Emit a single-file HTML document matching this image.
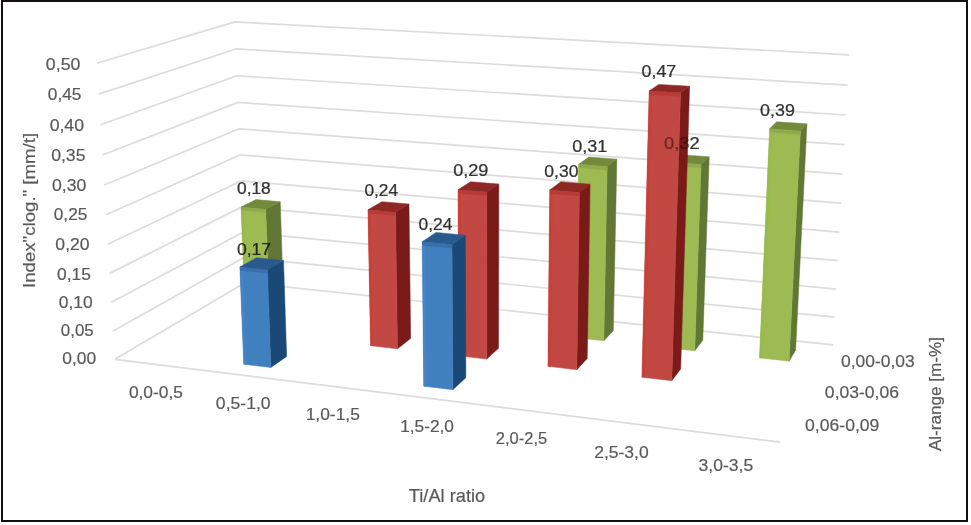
<!DOCTYPE html>
<html><head><meta charset="utf-8"><title>Chart</title>
<style>
html,body{margin:0;padding:0;background:#fff;}
body{width:971px;height:525px;overflow:hidden;position:relative;}
svg{position:absolute;left:0;top:0;display:block;filter:blur(0.35px);}
text{font-family:"Liberation Sans",Arial,sans-serif;font-size:17px;stroke-width:0.45px;paint-order:stroke;}
</style></head>
<body>
<svg width="971" height="525" viewBox="0 0 971 525">
<defs>
<clipPath id="inbar"><polygon points="641.91,377.18 671.80,380.63 680.52,92.87 649.17,90.92"/><polygon points="671.80,380.63 680.66,369.07 689.61,86.25 680.52,92.87"/><polygon points="649.17,90.92 680.52,92.87 689.61,86.25 658.81,84.38"/></clipPath>
<mask id="notbar" maskUnits="userSpaceOnUse" x="0" y="0" width="971" height="525"><rect x="0" y="0" width="971" height="525" fill="#fff"/><polygon points="641.91,377.18 671.80,380.63 680.52,92.87 649.17,90.92" fill="#000" stroke="#000" stroke-width="0.5"/><polygon points="671.80,380.63 680.66,369.07 689.61,86.25 680.52,92.87" fill="#000" stroke="#000" stroke-width="0.5"/><polygon points="649.17,90.92 680.52,92.87 689.61,86.25 658.81,84.38" fill="#000" stroke="#000" stroke-width="0.5"/></mask>
</defs>
<rect x="0" y="0" width="971" height="525" fill="#fff"/>
<polyline points="114.84,359.29 245.02,282.73 832.99,344.95" fill="none" stroke="#dcdcdc" stroke-width="1.7" stroke-linejoin="round"/>
<polyline points="113.12,330.92 244.04,257.59 834.55,317.12" fill="none" stroke="#dcdcdc" stroke-width="1.7" stroke-linejoin="round"/>
<polyline points="111.38,302.28 243.06,232.26 836.13,289.03" fill="none" stroke="#dcdcdc" stroke-width="1.7" stroke-linejoin="round"/>
<polyline points="109.63,273.37 242.06,206.71 837.73,260.69" fill="none" stroke="#dcdcdc" stroke-width="1.7" stroke-linejoin="round"/>
<polyline points="107.86,244.19 241.06,180.96 839.34,232.09" fill="none" stroke="#dcdcdc" stroke-width="1.7" stroke-linejoin="round"/>
<polyline points="106.07,214.73 240.04,154.99 840.96,203.22" fill="none" stroke="#dcdcdc" stroke-width="1.7" stroke-linejoin="round"/>
<polyline points="104.27,185.00 239.02,128.81 842.60,174.09" fill="none" stroke="#dcdcdc" stroke-width="1.7" stroke-linejoin="round"/>
<polyline points="102.44,154.98 237.99,102.41 844.25,144.68" fill="none" stroke="#dcdcdc" stroke-width="1.7" stroke-linejoin="round"/>
<polyline points="100.60,124.68 236.96,75.79 845.92,115.00" fill="none" stroke="#dcdcdc" stroke-width="1.7" stroke-linejoin="round"/>
<polyline points="98.75,94.08 235.91,48.95 847.61,85.04" fill="none" stroke="#dcdcdc" stroke-width="1.7" stroke-linejoin="round"/>
<polyline points="96.87,63.19 234.86,21.89 849.31,54.80" fill="none" stroke="#dcdcdc" stroke-width="1.7" stroke-linejoin="round"/>
<line x1="114.84" y1="359.29" x2="780.21" y2="442.10" stroke="#dcdcdc" stroke-width="1.7"/>
<polygon points="269.06,304.14 283.31,295.19 280.24,201.76 265.72,209.31" fill="#617735" stroke="#617735" stroke-width="0.5" stroke-linejoin="round"/>
<polygon points="244.74,301.48 269.06,304.14 265.72,209.31 241.05,207.07" fill="#9EBA52" stroke="#9EBA52" stroke-width="0.5" stroke-linejoin="round"/>
<polygon points="241.05,207.07 265.72,209.31 280.24,201.76 255.90,199.60" fill="#73893C" stroke="#73893C" stroke-width="0.5" stroke-linejoin="round"/>
<polygon points="244.74,301.48 247.16,301.74 243.63,210.59 241.18,210.37" fill="#98BC4C"/>
<polygon points="241.18,210.37 265.84,212.62 265.72,209.31 241.05,207.07" fill="#90AC4A"/>
<polygon points="603.83,340.86 613.30,330.70 616.82,159.16 607.15,166.55" fill="#617735" stroke="#617735" stroke-width="0.5" stroke-linejoin="round"/>
<polygon points="576.16,337.83 603.83,340.86 607.15,166.55 578.67,164.36" fill="#9EBA52" stroke="#9EBA52" stroke-width="0.5" stroke-linejoin="round"/>
<polygon points="578.67,164.36 607.15,166.55 616.82,159.16 588.80,157.04" fill="#73893C" stroke="#73893C" stroke-width="0.5" stroke-linejoin="round"/>
<polygon points="576.16,337.83 578.91,338.13 581.45,168.17 578.62,167.95" fill="#98BC4C"/>
<polygon points="578.62,167.95 607.08,170.16 607.15,166.55 578.67,164.36" fill="#90AC4A"/>
<polygon points="694.73,350.83 702.78,340.32 709.22,156.78 701.04,164.27" fill="#617735" stroke="#617735" stroke-width="0.5" stroke-linejoin="round"/>
<polygon points="666.11,347.69 694.73,350.83 701.04,164.27 671.52,162.05" fill="#9EBA52" stroke="#9EBA52" stroke-width="0.5" stroke-linejoin="round"/>
<polygon points="671.52,162.05 701.04,164.27 709.22,156.78 680.18,154.64" fill="#73893C" stroke="#73893C" stroke-width="0.5" stroke-linejoin="round"/>
<polygon points="666.11,347.69 668.96,348.00 674.35,165.93 671.42,165.71" fill="#98BC4C"/>
<polygon points="671.42,165.71 700.92,167.94 701.04,164.27 671.52,162.05" fill="#90AC4A"/>
<polygon points="789.08,361.13 795.60,350.26 806.97,123.83 800.41,130.89" fill="#617735" stroke="#617735" stroke-width="0.5" stroke-linejoin="round"/>
<polygon points="759.46,357.89 789.08,361.13 800.41,130.89 769.62,128.80" fill="#9EBA52" stroke="#9EBA52" stroke-width="0.5" stroke-linejoin="round"/>
<polygon points="769.62,128.80 800.41,130.89 806.97,123.83 776.71,121.82" fill="#73893C" stroke="#73893C" stroke-width="0.5" stroke-linejoin="round"/>
<polygon points="759.46,357.89 762.40,358.21 772.52,132.78 769.46,132.57" fill="#98BC4C"/>
<polygon points="769.46,132.57 800.23,134.67 800.41,130.89 769.62,128.80" fill="#90AC4A"/>
<polygon points="397.48,348.85 410.64,338.41 408.97,204.02 395.48,212.27" fill="#7A1B1A" stroke="#7A1B1A" stroke-width="0.5" stroke-linejoin="round"/>
<polygon points="370.54,345.73 397.48,348.85 395.48,212.27 367.95,209.82" fill="#C24843" stroke="#C24843" stroke-width="0.5" stroke-linejoin="round"/>
<polygon points="367.95,209.82 395.48,212.27 408.97,204.02 381.85,201.66" fill="#8E2824" stroke="#8E2824" stroke-width="0.5" stroke-linejoin="round"/>
<polygon points="370.54,345.73 373.22,346.04 370.76,213.65 368.02,213.41" fill="#C8403A"/>
<polygon points="368.02,213.41 395.53,215.87 395.48,212.27 367.95,209.82" fill="#B73C37"/>
<polygon points="486.69,359.08 498.52,348.28 498.80,184.05 486.65,192.11" fill="#7A1B1A" stroke="#7A1B1A" stroke-width="0.5" stroke-linejoin="round"/>
<polygon points="458.82,355.85 486.69,359.08 486.65,192.11 458.02,189.72" fill="#C24843" stroke="#C24843" stroke-width="0.5" stroke-linejoin="round"/>
<polygon points="458.02,189.72 486.65,192.11 498.80,184.05 470.62,181.74" fill="#8E2824" stroke="#8E2824" stroke-width="0.5" stroke-linejoin="round"/>
<polygon points="458.82,355.85 461.59,356.17 460.89,193.64 458.04,193.40" fill="#C8403A"/>
<polygon points="458.04,193.40 486.65,195.81 486.65,192.11 458.02,189.72" fill="#B73C37"/>
<polygon points="576.81,369.66 587.21,358.50 590.07,184.17 579.42,192.39" fill="#7A1B1A" stroke="#7A1B1A" stroke-width="0.5" stroke-linejoin="round"/>
<polygon points="547.95,366.33 576.81,369.66 579.42,192.39 549.72,189.95" fill="#C24843" stroke="#C24843" stroke-width="0.5" stroke-linejoin="round"/>
<polygon points="549.72,189.95 579.42,192.39 590.07,184.17 560.85,181.82" fill="#8E2824" stroke="#8E2824" stroke-width="0.5" stroke-linejoin="round"/>
<polygon points="547.95,366.33 550.82,366.66 552.63,193.94 549.68,193.70" fill="#C8403A"/>
<polygon points="549.68,193.70 579.37,196.16 579.42,192.39 549.72,189.95" fill="#B73C37"/>
<polygon points="671.80,380.63 680.66,369.07 689.61,86.25 680.52,92.87" fill="#7A1B1A" stroke="#7A1B1A" stroke-width="0.5" stroke-linejoin="round"/>
<polygon points="641.91,377.18 671.80,380.63 680.52,92.87 649.17,90.92" fill="#C24843" stroke="#C24843" stroke-width="0.5" stroke-linejoin="round"/>
<polygon points="649.17,90.92 680.52,92.87 689.61,86.25 658.81,84.38" fill="#8E2824" stroke="#8E2824" stroke-width="0.5" stroke-linejoin="round"/>
<polygon points="641.91,377.18 644.88,377.52 652.19,95.06 649.07,94.86" fill="#C8403A"/>
<polygon points="649.07,94.86 680.40,96.83 680.52,92.87 649.17,90.92" fill="#B73C37"/>
<polygon points="270.82,367.54 286.64,356.46 283.50,260.42 267.38,269.91" fill="#1A4977" stroke="#1A4977" stroke-width="0.5" stroke-linejoin="round"/>
<polygon points="243.75,364.23 270.82,367.54 267.38,269.91 239.89,267.08" fill="#4180BE" stroke="#4180BE" stroke-width="0.5" stroke-linejoin="round"/>
<polygon points="239.89,267.08 267.38,269.91 283.50,260.42 256.42,257.70" fill="#295A8C" stroke="#295A8C" stroke-width="0.5" stroke-linejoin="round"/>
<polygon points="243.75,364.23 246.44,364.56 242.77,271.01 240.03,270.72" fill="#4584C6"/>
<polygon points="240.03,270.72 267.51,273.57 267.38,269.91 239.89,267.08" fill="#3870AE"/>
<polygon points="452.81,389.70 465.84,377.81 465.33,235.16 451.98,244.59" fill="#1A4977" stroke="#1A4977" stroke-width="0.5" stroke-linejoin="round"/>
<polygon points="423.74,386.15 452.81,389.70 451.98,244.59 422.22,241.78" fill="#4180BE" stroke="#4180BE" stroke-width="0.5" stroke-linejoin="round"/>
<polygon points="422.22,241.78 451.98,244.59 465.33,235.16 436.06,232.46" fill="#295A8C" stroke="#295A8C" stroke-width="0.5" stroke-linejoin="round"/>
<polygon points="423.74,386.15 426.63,386.50 425.22,245.88 422.26,245.60" fill="#4584C6"/>
<polygon points="422.26,245.60 452.00,248.42 451.98,244.59 422.22,241.78" fill="#3870AE"/>
<text transform="translate(45.85,69.80) scale(1.0469,0.9700)" fill="#595959" stroke="#595959" style="stroke-width:0.2px">0,50</text>
<text transform="translate(47.78,100.30) scale(1.0188,0.9700)" fill="#595959" stroke="#595959" style="stroke-width:0.2px">0,45</text>
<text transform="translate(49.66,131.30) scale(1.0375,0.9700)" fill="#595959" stroke="#595959" style="stroke-width:0.2px">0,40</text>
<text transform="translate(51.16,160.60) scale(1.0375,0.9700)" fill="#595959" stroke="#595959" style="stroke-width:0.2px">0,35</text>
<text transform="translate(51.96,190.60) scale(1.0375,0.9700)" fill="#595959" stroke="#595959" style="stroke-width:0.2px">0,30</text>
<text transform="translate(53.79,220.30) scale(1.0125,0.9700)" fill="#595959" stroke="#595959" style="stroke-width:0.2px">0,25</text>
<text transform="translate(55.37,249.50) scale(1.0344,0.9700)" fill="#595959" stroke="#595959" style="stroke-width:0.2px">0,20</text>
<text transform="translate(56.98,279.50) scale(1.0250,0.9700)" fill="#595959" stroke="#595959" style="stroke-width:0.2px">0,15</text>
<text transform="translate(58.77,307.50) scale(1.0250,0.9700)" fill="#595959" stroke="#595959" style="stroke-width:0.2px">0,10</text>
<text transform="translate(60.81,336.00) scale(0.9937,0.9700)" fill="#595959" stroke="#595959" style="stroke-width:0.2px">0,05</text>
<text transform="translate(62.27,364.20) scale(1.0250,0.9700)" fill="#595959" stroke="#595959" style="stroke-width:0.2px">0,00</text>
<text transform="translate(128.88,397.60) scale(1.0216,0.9700)" fill="#595959" stroke="#595959" style="stroke-width:0.2px">0,0-0,5</text>
<text transform="translate(215.86,409.20) scale(1.0353,0.9700)" fill="#595959" stroke="#595959" style="stroke-width:0.2px">0,5-1,0</text>
<text transform="translate(305.68,419.50) scale(1.0235,0.9700)" fill="#595959" stroke="#595959" style="stroke-width:0.2px">1,0-1,5</text>
<text transform="translate(400.18,432.30) scale(1.0176,0.9700)" fill="#595959" stroke="#595959" style="stroke-width:0.2px">1,5-2,0</text>
<text transform="translate(495.83,444.40) scale(0.9706,0.9700)" fill="#595959" stroke="#595959" style="stroke-width:0.2px">2,0-2,5</text>
<text transform="translate(594.27,457.60) scale(1.0275,0.9700)" fill="#595959" stroke="#595959" style="stroke-width:0.2px">2,5-3,0</text>
<text transform="translate(698.57,470.70) scale(1.0333,0.9700)" fill="#595959" stroke="#595959" style="stroke-width:0.2px">3,0-3,5</text>
<text transform="translate(840.97,366.50) scale(1.0257,0.9700)" fill="#595959" stroke="#595959" style="stroke-width:0.2px">0,00-0,03</text>
<text transform="translate(824.87,397.50) scale(1.0329,0.9700)" fill="#595959" stroke="#595959" style="stroke-width:0.2px">0,03-0,06</text>
<text transform="translate(805.06,430.90) scale(1.0357,0.9700)" fill="#595959" stroke="#595959" style="stroke-width:0.2px">0,06-0,09</text>
<text transform="translate(408.80,501.70) scale(1.0732,1.0583)" fill="#595959" stroke="#595959" style="stroke-width:0.2px">Ti/Al ratio</text>
<text transform="translate(236.98,193.50) scale(1.0219,0.9700)" fill="#333333" stroke="#333333" style="mix-blend-mode:multiply;stroke-width:0.25px">0,18</text>
<text transform="translate(236.97,254.80) scale(1.0323,0.9700)" fill="#333333" stroke="#333333" style="mix-blend-mode:multiply;stroke-width:0.25px">0,17</text>
<text transform="translate(364.38,196.30) scale(1.0188,0.9700)" fill="#333333" stroke="#333333" style="mix-blend-mode:multiply;stroke-width:0.25px">0,24</text>
<text transform="translate(418.48,229.80) scale(1.0250,0.9700)" fill="#333333" stroke="#333333" style="mix-blend-mode:multiply;stroke-width:0.25px">0,24</text>
<text transform="translate(453.13,176.00) scale(1.0677,0.9700)" fill="#333333" stroke="#333333" style="mix-blend-mode:multiply;stroke-width:0.25px">0,29</text>
<text transform="translate(544.27,177.10) scale(1.0344,0.9700)" fill="#333333" stroke="#333333" style="mix-blend-mode:multiply;stroke-width:0.25px">0,30</text>
<text transform="translate(572.24,151.90) scale(1.0613,0.9700)" fill="#333333" stroke="#333333" style="mix-blend-mode:multiply;stroke-width:0.25px">0,31</text>
<text transform="translate(641.55,77.30) scale(1.0484,0.9700)" fill="#333333" stroke="#333333" style="mix-blend-mode:multiply;stroke-width:0.25px">0,47</text>
<g mask="url(#notbar)" style="mix-blend-mode:multiply"><text transform="translate(664.02,148.90) scale(1.0806,0.9700)" fill="#333333" stroke="#333333" style="stroke-width:0.25px">0,32</text></g>
<g clip-path="url(#inbar)" style="mix-blend-mode:multiply"><text transform="translate(664.02,148.90) scale(1.0806,0.9700)" fill="#8c8c8c" stroke="#8c8c8c" style="stroke-width:0.25px">0,32</text></g>
<text transform="translate(760.05,116.00) scale(1.0516,0.9700)" fill="#333333" stroke="#333333" style="mix-blend-mode:multiply;stroke-width:0.25px">0,39</text>
<text transform="translate(35.40,287.99) rotate(-90) scale(1.0964,0.9583)" fill="#595959" stroke="#595959" style="stroke-width:0.2px">Index&quot;clog.&quot; [mm/t]</text>
<text transform="translate(940.50,451.10) rotate(-90) scale(1.0071,0.9667)" fill="#595959" stroke="#595959" style="stroke-width:0.2px">Al-range [m-%]</text>
<rect x="2" y="1" width="965" height="520" fill="none" stroke="#141011" stroke-width="2"/>
</svg>
</body></html>
